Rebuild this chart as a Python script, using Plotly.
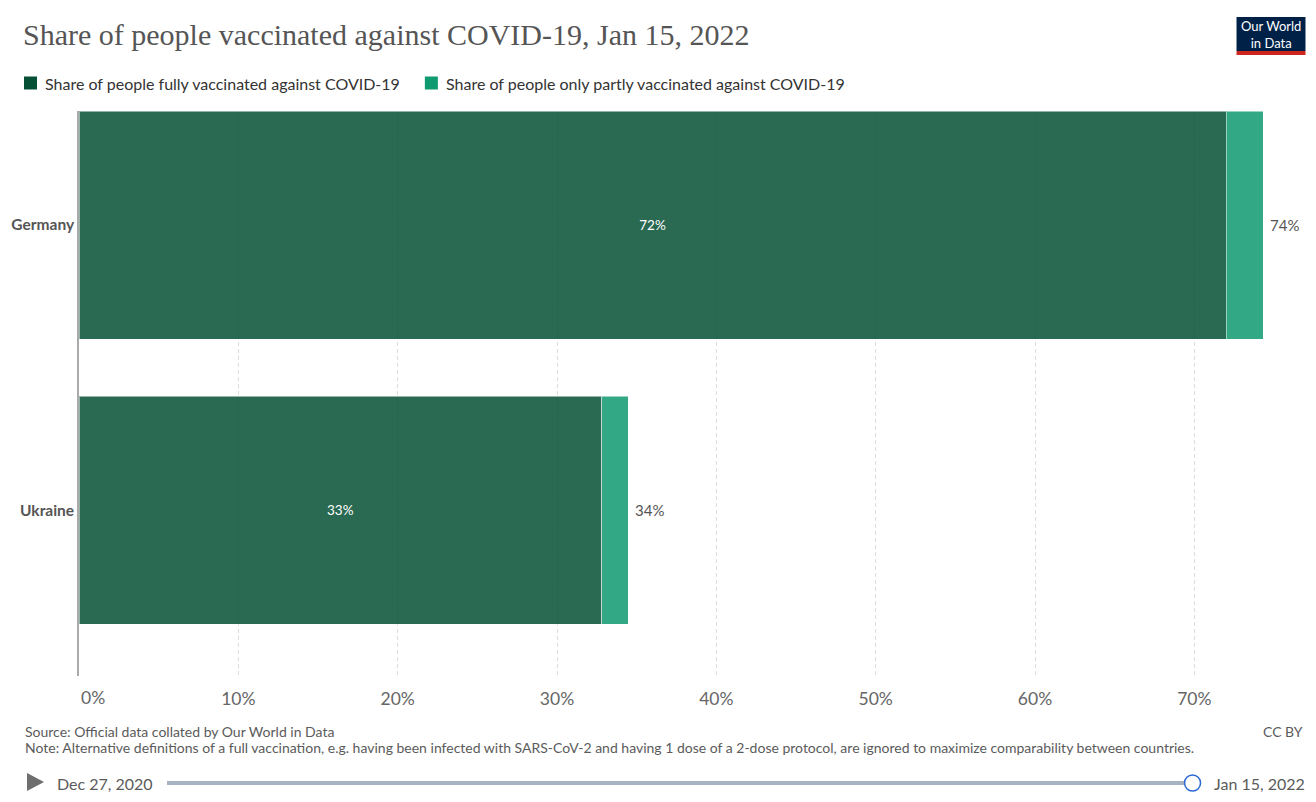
import plotly.graph_objects as go

countries = ["Germany", "Ukraine"]
fully = [72.0, 32.8]
partly = [2.34, 1.68]
tick_vals = [0, 10, 20, 30, 40, 50, 60, 70]
tick_text = ["0%", "10%", "20%", "30%", "40%", "50%", "60%", "70%"]
series_names = ["Share of people fully vaccinated against COVID-19",
                "Share of people only partly vaccinated against COVID-19"]
colors = ["#065035", "#0f9a70"]
title = "Share of people vaccinated against COVID-19, Jan 15, 2022"
source = "Source: Official data collated by Our World in Data"
note = ("Note: Alternative definitions of a full vaccination, e.g. having been infected with SARS-CoV-2 "
        "and having 1 dose of a 2-dose protocol, are ignored to maximize comparability between countries.")
start_date = "Dec 27, 2020"
end_date = "Jan 15, 2022"

# page is offset by the 8px body margin
OFF = 8
W, H = 1316 - 2 * OFF, 802 - 2 * OFF
# plot area in page pixel coordinates
L, R, T, B = 79, 1274.5, 111, 676


def X(px):
    return (px - L) / (R - L)


def Y(py):
    return (B - py) / (B - T)


fig = go.Figure()
fig.add_trace(go.Bar(
    y=countries, x=fully, orientation="h", name=series_names[0],
    marker=dict(color=colors[0], opacity=0.85, line=dict(width=1, color="rgba(255,255,255,0.5)")),
    width=0.8, text=[f"{round(v)}%" for v in fully], textposition="inside",
    insidetextanchor="middle", textfont=dict(color="white", size=13.5, family="Lato"),
    showlegend=False, hoverinfo="skip"))
fig.add_trace(go.Bar(
    y=countries, x=partly, orientation="h", name=series_names[1],
    marker=dict(color=colors[1], opacity=0.85, line=dict(width=1, color="rgba(255,255,255,0.5)")),
    width=0.8, showlegend=False, hoverinfo="skip"))

annotations = []
shapes = []
for c, f, p in zip(countries, fully, partly):
    tot = f + p
    annotations.append(dict(x=tot, y=c, xref="x", yref="y", text=f"{round(tot)}%",
                            xanchor="left", yanchor="middle", xshift=5, showarrow=False,
                            font=dict(family="Lato", size=15, color="#555")))

annotations.append(dict(x=tick_vals[0], y=Y(697), xref="x", yref="paper", text=tick_text[0],
                        xanchor="left", yanchor="middle", showarrow=False,
                        font=dict(family="Lato", size=17.5, color="#666")))

annotations.append(dict(x=X(21), y=Y(34), xref="paper", yref="paper", text=title,
                        xanchor="left", yanchor="middle", showarrow=False,
                        font=dict(family="Liberation Serif", size=30, color="#555")))

leg_x = [24, 425]
for i, name in enumerate(series_names):
    shapes.append(dict(type="rect", xref="paper", yref="paper",
                       x0=X(leg_x[i]), x1=X(leg_x[i] + 13), y0=Y(76.5), y1=Y(89.5),
                       fillcolor=colors[i], line=dict(width=0)))
    annotations.append(dict(x=X(leg_x[i] + 19), y=Y(83), xref="paper", yref="paper", text=name,
                            xanchor="left", yanchor="middle", showarrow=False,
                            font=dict(family="Lato", size=16, color="#333")))

shapes.append(dict(type="rect", xref="paper", yref="paper", x0=X(1237), x1=X(1306),
                   y0=Y(51), y1=Y(17), fillcolor="#002147", line=dict(width=0)))
shapes.append(dict(type="rect", xref="paper", yref="paper", x0=X(1237), x1=X(1306),
                   y0=Y(55), y1=Y(51), fillcolor="#ce261e", line=dict(width=0)))
annotations.append(dict(x=X(1271.5), y=Y(34), xref="paper", yref="paper",
                        text="Our World<br>in Data", showarrow=False, xanchor="center",
                        yanchor="middle", align="center",
                        font=dict(family="Lato", size=13, color="white")))

annotations.append(dict(x=X(23), y=Y(732), xref="paper", yref="paper", text=source,
                        xanchor="left", yanchor="middle", showarrow=False,
                        font=dict(family="Lato", size=14, color="#5b5b5b")))
annotations.append(dict(x=X(23), y=Y(747), xref="paper", yref="paper", text=note,
                        xanchor="left", yanchor="middle", showarrow=False,
                        font=dict(family="Lato", size=14, color="#5b5b5b")))
annotations.append(dict(x=X(1306), y=Y(732), xref="paper", yref="paper", text="CC BY",
                        xanchor="right", yanchor="middle", showarrow=False,
                        font=dict(family="Lato", size=14, color="#5b5b5b")))

shapes.append(dict(type="path", xref="paper", yref="paper",
                   path=f"M {X(27)},{Y(773)} L {X(44)},{Y(782)} L {X(27)},{Y(791)} Z",
                   fillcolor="#6e6e6e", line=dict(width=0)))
annotations.append(dict(x=X(55), y=Y(783), xref="paper", yref="paper", text=start_date,
                        xanchor="left", yanchor="middle", showarrow=False,
                        font=dict(family="Lato", size=16, color="#5b5b5b")))
shapes.append(dict(type="line", xref="paper", yref="paper", x0=X(167), x1=X(1186),
                   y0=Y(783), y1=Y(783), line=dict(color="#a9b2c1", width=4)))
shapes.append(dict(type="circle", xref="paper", yref="paper", x0=X(1185), x1=X(1201),
                   y0=Y(791), y1=Y(775), fillcolor="white", line=dict(color="#2a6ad4", width=1.5)))
annotations.append(dict(x=X(1212), y=Y(783), xref="paper", yref="paper", text=end_date,
                        xanchor="left", yanchor="middle", showarrow=False,
                        font=dict(family="Lato", size=16, color="#5b5b5b")))

fig.update_layout(
    width=W, height=H,
    margin=dict(l=L - OFF, r=W - (R - OFF), t=T - OFF, b=H - (B - OFF), autoexpand=False),
    paper_bgcolor="white", plot_bgcolor="white",
    barmode="stack", bargap=0.2,
    annotations=annotations, shapes=shapes,
    showlegend=False,
    xaxis=dict(range=[0, 75], tickvals=tick_vals, ticktext=[""] + tick_text[1:],
               showgrid=True, gridcolor="#dddddd", griddash="4px,3px", gridwidth=1,
               zeroline=False, showline=False, ticks="outside", ticklen=7, tickcolor="white",
               tickfont=dict(family="Lato", size=17.5, color="#666"), fixedrange=True),
    yaxis=dict(range=[1.582, -0.4], autorange=False, showgrid=False, zeroline=False,
               showline=True, linecolor="#aaaaaa", linewidth=1.5, ticks="",
               tickfont=dict(family="Lato", size=15.5, color="#555", weight="bold"),
               fixedrange=True),
    font=dict(family="Lato"),
)

fig.write_html("out.html")
